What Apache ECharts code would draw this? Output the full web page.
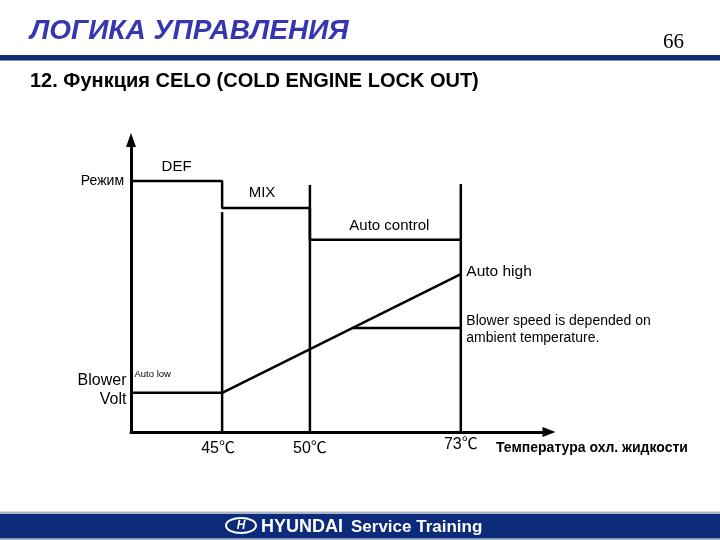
<!DOCTYPE html>
<html><head><meta charset="utf-8">
<script src="https://cdn.jsdelivr.net/npm/echarts@6/dist/echarts.min.js"></script>
<style>html,body{margin:0;padding:0;background:#fff}#c{width:720px;height:540px}</style>
</head><body><div id="c"></div>
<script>
// Schematic chart: both axes use arbitrary 0..100 units (diagram, not to scale)
const stageLabels = ['45℃', '50℃', '73℃'];
const stageX = [21.8, 42.8, 78.9];
const stageTop = [75.3, 84.6, 84.9];

const modeNames = ['DEF', 'MIX', 'Auto control'];
const modeX = [0, 21.8, 42.8, 78.9];
const modeLevel = [86.0, 76.7, 65.8];

const blowerNames = ['Auto low', 'Auto high'];
const blowerX = [0, 21.8, 78.9];
const blowerY = [13.4, 13.4, 54.1];

const ambientNote = 'Blower speed is depended on\nambient temperature.';
const ambientX = [52.9, 78.9];
const ambientY = [35.6, 35.6];

const yAxisTitles = ['Режим', 'Blower\nVolt'];
const xAxisTitle = 'Температура охл. жидкости';

const titleText = 'ЛОГИКА УПРАВЛЕНИЯ';
const subtitleText = '12. Функция CELO (COLD ENGINE LOCK OUT)';
const pageNumber = '66';

const FONT = '"Liberation Sans", Arial, "Noto Sans CJK KR", sans-serif';
const chart = echarts.init(document.getElementById('c'), null, {renderer: 'canvas'});

const lineBase = {type: 'line', symbol: 'none', showSymbol: false, clip: false, silent: true,
  animation: false, lineStyle: {color: '#000', width: 2.5, cap: 'butt', opacity: 1}};

const modeData = [];
modeNames.forEach((n, i) => { modeData.push([modeX[i], modeLevel[i]], [modeX[i + 1], modeLevel[i]]); });

const series = [];
series.push(Object.assign({}, lineBase, {name: 'mode', data: modeData}));
stageX.forEach((x, i) => series.push(Object.assign({}, lineBase, {name: 'stage' + i, data: [[x, stageTop[i]], [x, 0]]})));
series.push(Object.assign({}, lineBase, {name: 'blower', data: blowerX.map((x, i) => [x, blowerY[i]])}));
series.push(Object.assign({}, lineBase, {name: 'ambient', data: ambientX.map((x, i) => [x, ambientY[i]])}));

const txt = (size, extra) => Object.assign({show: true, color: '#000', opacity: 1, fontFamily: FONT, fontSize: size}, extra);
const annotations = [
  {value: [(modeX[0] + modeX[1]) / 2, modeLevel[0]], label: txt(15, {formatter: modeNames[0], position: 'top', distance: 6.5})},
  {value: [(modeX[1] + modeX[2]) / 2, modeLevel[1]], label: txt(15, {formatter: modeNames[1], position: 'top', distance: 7, offset: [-4, 0]})},
  {value: [(modeX[2] + modeX[3]) / 2, modeLevel[2]], label: txt(15, {formatter: modeNames[2], position: 'top', distance: 6.5, offset: [4, 0]})},
  {value: [blowerX[2], blowerY[2]], label: txt(15.5, {formatter: blowerNames[1], position: 'right', distance: 5, offset: [0, -2]})},
  {value: [ambientX[1], ambientY[1]], label: txt(14, {formatter: ambientNote, position: 'right', distance: 5, lineHeight: 17, offset: [0, 1.5]})},
  {value: [blowerX[0], blowerY[0]], label: txt(9.5, {formatter: blowerNames[0], position: 'right', distance: 3, offset: [0, -18]})},
  {value: [0, modeLevel[0]], label: txt(14, {formatter: yAxisTitles[0], position: 'left', distance: 6.5})},
  {value: [0, blowerY[0]], label: txt(16, {formatter: yAxisTitles[1], position: 'left', distance: 4, lineHeight: 19, offset: [0, -3]})},
  {value: [stageX[0], 0], label: txt(16, {formatter: stageLabels[0], position: 'bottom', distance: 8, offset: [-4, 0]})},
  {value: [stageX[1], 0], label: txt(16, {formatter: stageLabels[1], position: 'bottom', distance: 8})},
  {value: [stageX[2], 0], label: txt(16, {formatter: stageLabels[2], position: 'bottom', distance: 4})}
];
series.push({type: 'scatter', name: 'annotations', data: annotations, symbol: 'circle', symbolSize: 1,
  itemStyle: {color: 'rgba(0,0,0,0)', opacity: 1}, clip: false, silent: true, animation: false, z: 5});

const axisCommon = {type: 'value', min: 0, max: 100,
  axisTick: {show: false}, axisLabel: {show: false}, splitLine: {show: false}};

chart.setOption({
  animation: false,
  backgroundColor: '#fff',
  grid: {left: 131, right: 171, top: 140, bottom: 108, outerBoundsMode: 'none'},
  xAxis: Object.assign({}, axisCommon, {
    axisLine: {show: true, onZero: false, symbol: ['none', 'triangle'], symbolSize: [10, 13], lineStyle: {color: '#000', width: 3}},
    name: xAxisTitle, nameLocation: 'end', nameGap: -53,
    nameTextStyle: {fontFamily: FONT, fontWeight: 'bold', fontSize: 14, color: '#000', align: 'left', verticalAlign: 'top', padding: [9, 0, 0, 0]}
  }),
  yAxis: Object.assign({}, axisCommon, {
    axisLine: {show: true, onZero: false, symbol: ['none', 'triangle'], symbolSize: [10, 14], lineStyle: {color: '#000', width: 3}}
  }),
  series: series,
  graphic: [
    {type: 'text', x: 30, y: 31, style: {text: titleText, font: 'italic bold 28px ' + FONT, fill: '#3636b2', align: 'left', verticalAlign: 'middle'}},
    {type: 'text', x: 684, y: 42, style: {text: pageNumber, font: '21px "Liberation Serif", "Times New Roman", serif', fill: '#000', align: 'right', verticalAlign: 'middle'}},
    {type: 'rect', shape: {x: 0, y: 55, width: 720, height: 5.5}, style: {fill: '#102c72'}},
    {type: 'text', x: 30, y: 81, style: {text: subtitleText, font: 'bold 20px ' + FONT, fill: '#000', align: 'left', verticalAlign: 'middle'}},
    {type: 'rect', shape: {x: 0, y: 511.5, width: 720, height: 28.5}, style: {fill: '#aab4c8'}},
    {type: 'rect', shape: {x: 0, y: 514, width: 720, height: 24.3}, style: {fill: '#0c2b7a'}},
    {type: 'ellipse', shape: {cx: 241, cy: 525.5, rx: 15, ry: 7.5}, style: {fill: 'none', stroke: '#fff', lineWidth: 2}},
    {type: 'text', x: 241, y: 526, style: {text: 'H', font: 'italic bold 12px ' + FONT, fill: '#fff', align: 'center', verticalAlign: 'middle'}},
    {type: 'text', x: 261, y: 527, style: {text: 'HYUNDAI', font: 'bold 18px ' + FONT, fill: '#fff', align: 'left', verticalAlign: 'middle'}},
    {type: 'text', x: 351, y: 527, style: {text: 'Service Training', font: 'bold 17px ' + FONT, fill: '#fff', align: 'left', verticalAlign: 'middle'}}
  ]
});
</script></body></html>
